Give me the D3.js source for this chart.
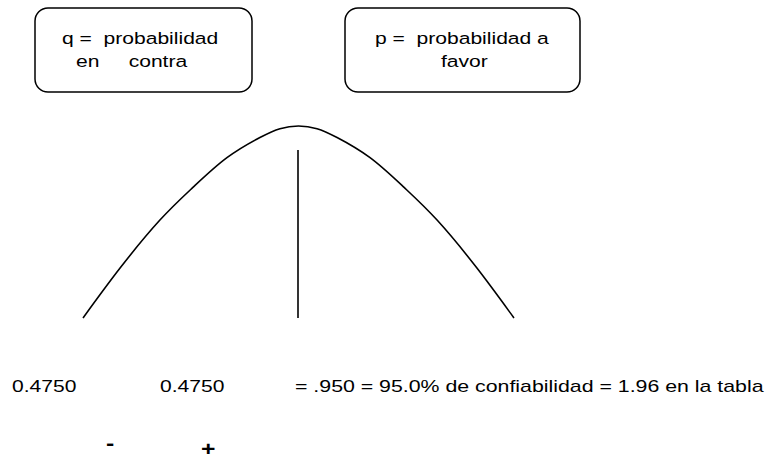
<!DOCTYPE html>
<html>
<head>
<meta charset="utf-8">
<script src="https://cdn.jsdelivr.net/npm/d3@7"></script>
<style>
  body { margin: 0; background: #fff; }
  text { font-family: "Liberation Sans", Arial, sans-serif; white-space: pre; }
</style>
</head>
<body>
<div class="chart"></div>
<script>
// curva normal: z de -1 a 1, altura relativa 0..1
var curve_z = [-1, -0.828, -0.643, -0.490, -0.332, -0.179, -0.086, 0, 0.086, 0.179, 0.332, 0.490, 0.643, 0.828, 1];
var curve_h = [0, 0.26, 0.51, 0.68, 0.835, 0.94, 0.986, 1, 0.986, 0.94, 0.835, 0.68, 0.51, 0.26, 0];

// cajas de arriba
var box_lines_q = ["q =  probabilidad", "en     contra"];
var box_lines_p = ["p =  probabilidad a", "favor"];

// textos de abajo
var values = ["0.4750", "0.4750"];
var result = "= .950 = 95.0% de confiabilidad = 1.96 en la tabla";
var signs = ["-", "+"];

var svg = d3.select(".chart")
            .append("svg")
            .attr("width", 765)
            .attr("height", 462);

var x = d3.scaleLinear().domain([-1, 1]).range([83, 514]);
var y = d3.scaleLinear().domain([0, 1]).range([318, 126]);

var sx = 1.24; // el dibujo original esta estirado a lo ancho

function addText(tx, ty, str, size, weight, scale) {
    svg.append("text")
        .attr("transform", "translate(" + tx + "," + ty + ") scale(" + (scale || sx) + ",1)")
        .text(str)
        .style("font-size", size + "px")
        .attr("font-weight", weight || "normal")
        .attr("fill", "black");
}

//cajas
svg.append("rect")
    .attr("x", 35).attr("y", 8)
    .attr("width", 217).attr("height", 84)
    .attr("rx", 13).attr("ry", 13)
    .style("fill", "none").style("stroke", "black").style("stroke-width", 1.5);

svg.append("rect")
    .attr("x", 345).attr("y", 8)
    .attr("width", 235).attr("height", 84)
    .attr("rx", 13).attr("ry", 13)
    .style("fill", "none").style("stroke", "black").style("stroke-width", 1.5);

addText(62, 44, box_lines_q[0], 17);
addText(76, 67, box_lines_q[1], 17);
addText(375, 44, box_lines_p[0], 17);
addText(441, 67, box_lines_p[1], 17);

//curva
var pts = curve_z.map(function(z, i) { return [z, curve_h[i]]; });
var line = d3.line()
    .x(function(d) { return x(d[0]); })
    .y(function(d) { return y(d[1]); })
    .curve(d3.curveNatural);

svg.append("path")
    .attr("d", line(pts))
    .style("fill", "none")
    .style("stroke", "black")
    .style("stroke-width", 1.6);

//linea central
svg.append("line")
    .attr("x1", x(0) - 0.5).attr("y1", 150)
    .attr("x2", x(0) - 0.5).attr("y2", y(0))
    .style("stroke", "black")
    .style("stroke-width", 1.6);

//valores
addText(12, 392, values[0], 17);
addText(160, 392, values[1], 17);
addText(295, 392, result, 17, "normal", 1.255);

addText(106, 450, signs[0], 20, "bold");
addText(201, 456, signs[1], 20, "bold");
</script>
</body>
</html>
